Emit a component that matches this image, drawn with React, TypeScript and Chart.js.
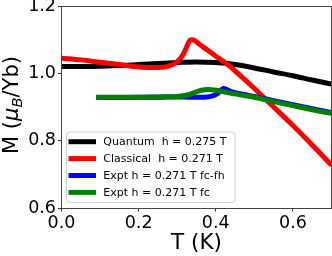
import React, { useEffect, useRef } from "react";
import { Chart, registerables } from "chart.js";

Chart.register(...registerables);

const quantumT = [0, 0.05, 0.1, 0.15, 0.2, 0.25, 0.3, 0.35, 0.4, 0.45, 0.5, 0.55, 0.6, 0.65, 0.7];
const quantumM = [1.02, 1.02, 1.021, 1.023, 1.026, 1.029, 1.032, 1.034, 1.032, 1.026, 1.016, 1.004, 0.993, 0.98, 0.968];

const classicalT = [0, 0.05, 0.1, 0.15, 0.2, 0.25, 0.28, 0.3, 0.315, 0.325, 0.333, 0.34, 0.36, 0.38, 0.4, 0.43, 0.46, 0.5, 0.55, 0.6, 0.65, 0.7];
const classicalM = [1.045, 1.04, 1.033, 1.026, 1.019, 1.017, 1.022, 1.035, 1.055, 1.08, 1.098, 1.1, 1.084, 1.068, 1.051, 1.027, 0.997, 0.955, 0.9, 0.845, 0.787, 0.727];

const fcfhT = [0.09, 0.15, 0.2, 0.25, 0.3, 0.34, 0.37, 0.39, 0.405, 0.42, 0.44, 0.47, 0.5, 0.55, 0.6, 0.65, 0.7];
const fcfhM = [0.928, 0.928, 0.929, 0.929, 0.93, 0.929, 0.929, 0.932, 0.94, 0.955, 0.946, 0.938, 0.931, 0.919, 0.907, 0.895, 0.883];

const fcT = [0.09, 0.15, 0.2, 0.25, 0.3, 0.32, 0.34, 0.36, 0.38, 0.4, 0.42, 0.45, 0.5, 0.55, 0.6, 0.65, 0.7];
const fcM = [0.929, 0.929, 0.929, 0.93, 0.931, 0.934, 0.941, 0.949, 0.952, 0.95, 0.945, 0.939, 0.929, 0.916, 0.904, 0.892, 0.881];

const xTicks = [0, 0.2, 0.4, 0.6];
const yTicks = [0.6, 0.8, 1.0, 1.2];

const seriesLabels = [
  "Quantum  h = 0.275 T",
  "Classical  h = 0.271 T",
  "Expt h = 0.271 T fc-fh",
  "Expt h = 0.271 T fc",
];
const seriesColors = ["#000000", "#ff0000", "#0000ff", "#008000"];

const FONT = "'DejaVu Sans', 'Liberation Sans', sans-serif";

function pts(xs: number[], ys: number[]) {
  return xs.map((x, i) => ({ x, y: ys[i] }));
}

const decorPlugin = {
  id: "decor",
  afterDatasetsDraw(chart: any) {
    const { ctx, chartArea } = chart;
    ctx.save();
    ctx.strokeStyle = "#444";
    ctx.lineWidth = 1;
    ctx.strokeRect(chartArea.left, chartArea.top + 0.5, chartArea.right - chartArea.left, chartArea.bottom - chartArea.top);
    ctx.restore();
  },
  afterDraw(chart: any) {
    const { ctx, chartArea } = chart;
    ctx.save();
    // legend
    const bx = 66.5, by = 132, bw = 168.5, bh = 70.5, r = 3;
    ctx.beginPath();
    ctx.moveTo(bx + r, by);
    ctx.lineTo(bx + bw - r, by);
    ctx.arcTo(bx + bw, by, bx + bw, by + r, r);
    ctx.lineTo(bx + bw, by + bh - r);
    ctx.arcTo(bx + bw, by + bh, bx + bw - r, by + bh, r);
    ctx.lineTo(bx + r, by + bh);
    ctx.arcTo(bx, by + bh, bx, by + bh - r, r);
    ctx.lineTo(bx, by + r);
    ctx.arcTo(bx, by, bx + r, by, r);
    ctx.closePath();
    ctx.fillStyle = "rgba(255,255,255,0.8)";
    ctx.fill();
    ctx.strokeStyle = "#d0d0d0";
    ctx.lineWidth = 1;
    ctx.stroke();
    const rowY = [141.7, 158.6, 175.5, 192.4];
    ctx.font = `11px ${FONT}`;
    ctx.textBaseline = "middle";
    ctx.textAlign = "left";
    seriesLabels.forEach((lab, i) => {
      ctx.strokeStyle = seriesColors[i];
      ctx.lineWidth = 5;
      ctx.beginPath();
      ctx.moveTo(68.5, rowY[i]);
      ctx.lineTo(96, rowY[i]);
      ctx.stroke();
      ctx.fillStyle = "#000";
      ctx.fillText(lab, 103.3, rowY[i] + 0.5);
    });
    // x title
    ctx.fillStyle = "#000";
    ctx.font = `21.5px ${FONT}`;
    ctx.textAlign = "center";
    ctx.textBaseline = "alphabetic";
    ctx.fillText("T (K)", (chartArea.left + chartArea.right) / 2, 249);
    // y title
    const fs = 21;
    const parts = [
      { t: "M (", f: `${fs}px ${FONT}`, dy: 0 },
      { t: "μ", f: `italic ${fs}px ${FONT}`, dy: 0 },
      { t: "B", f: `italic ${fs * 0.7}px ${FONT}`, dy: 4 },
      { t: "/Yb)", f: `${fs}px ${FONT}`, dy: 0 },
    ];
    let total = 0;
    const widths = parts.map((p) => {
      ctx.font = p.f;
      const w = ctx.measureText(p.t).width;
      total += w;
      return w;
    });
    ctx.translate(17.5, 105);
    ctx.rotate(-Math.PI / 2);
    ctx.textAlign = "left";
    let x = -total / 2;
    parts.forEach((p, i) => {
      ctx.font = p.f;
      ctx.fillText(p.t, x, p.dy);
      x += widths[i];
    });
    ctx.restore();
  },
};

export default function App() {
  const ref = useRef<HTMLCanvasElement>(null);
  useEffect(() => {
    if (!ref.current) return;
    const mk = (i: number, data: any, order: number) => ({
      label: seriesLabels[i],
      data,
      borderColor: seriesColors[i],
      backgroundColor: seriesColors[i],
      borderWidth: 5,
      pointRadius: 0,
      cubicInterpolationMode: "monotone",
      borderJoinStyle: "round",
      borderCapStyle: "butt",
      fill: false,
      clip: 0,
      order,
    });
    const chart = new Chart(ref.current, {
      type: "line",
      data: {
        datasets: [
          mk(0, pts(quantumT, quantumM), 4),
          mk(1, pts(classicalT, classicalM), 3),
          mk(2, pts(fcfhT, fcfhM), 2),
          mk(3, pts(fcT, fcM), 1),
        ] as any,
      },
      options: {
        animation: false,
        responsive: false,
        events: [],
        layout: { padding: { top: 6, right: 0.5, bottom: 0, left: 0 } },
        plugins: { legend: { display: false }, tooltip: { enabled: false } },
        scales: {
          x: {
            type: "linear",
            min: 0,
            max: 0.7,
            afterBuildTicks: (s: any) => {
              s.ticks = xTicks.map((v) => ({ value: v }));
            },
            afterFit: (s: any) => {
              s.height = 48;
              s.paddingLeft = 0;
              s.paddingRight = 0;
            },
            ticks: {
              color: "#000",
              font: { family: FONT, size: 17.5 },
              padding: 1,
              maxRotation: 0,
              autoSkip: false,
              callback: (v: any) => Number(v).toFixed(1),
            },
            grid: { display: true, drawOnChartArea: false, drawTicks: true, tickLength: 3.5, tickColor: "#333" },
            border: { display: false },
          },
          y: {
            type: "linear",
            min: 0.6,
            max: 1.2,
            afterBuildTicks: (s: any) => {
              s.ticks = yTicks.map((v) => ({ value: v }));
            },
            afterFit: (s: any) => {
              s.width = 61.5;
              s.paddingTop = 0;
              s.paddingBottom = 0;
            },
            ticks: {
              color: "#000",
              font: { family: FONT, size: 17.5 },
              padding: 2,
              autoSkip: false,
              callback: (v: any) => Number(v).toFixed(1),
            },
            grid: { display: true, drawOnChartArea: false, drawTicks: true, tickLength: 3.5, tickColor: "#333" },
            border: { display: false },
          },
        },
      },
      plugins: [decorPlugin],
    } as any);
    return () => chart.destroy();
  }, []);
  return (
    <div style={{ position: "absolute", left: 0, top: 0, width: 332, height: 256, background: "#fff" }}>
      <canvas ref={ref} width={332} height={256} />
    </div>
  );
}
